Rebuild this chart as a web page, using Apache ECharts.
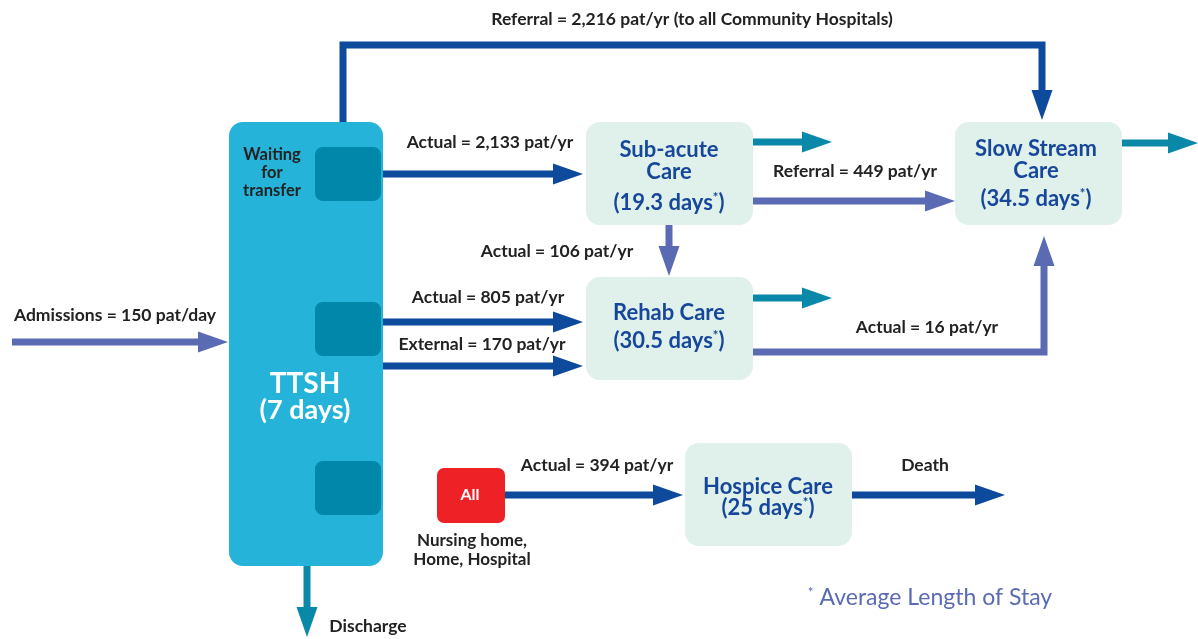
<!DOCTYPE html>
<html>
<head>
<meta charset="utf-8">
<script src="https://cdn.jsdelivr.net/npm/echarts@6/dist/echarts.min.js"></script>
<style>
html, body { margin: 0; padding: 0; background: #fff; }
#main { width: 1198px; height: 639px; }
</style>
</head>
<body>
<div id="main"></div>
<script>
// --- data ---
var hubName = 'TTSH';
var hubDays = 7;
var careNames = ['Sub-acute Care', 'Rehab Care', 'Slow Stream Care', 'Hospice Care'];
var careDays = [19.3, 30.5, 34.5, 25];
var flowNames = ['Admissions', 'Referral', 'Actual', 'Referral', 'Actual', 'Actual', 'External', 'Actual', 'Actual'];
var flowValues = [150, 2216, 2133, 449, 106, 805, 170, 16, 394];
var flowUnits = ['pat/day', 'pat/yr', 'pat/yr', 'pat/yr', 'pat/yr', 'pat/yr', 'pat/yr', 'pat/yr', 'pat/yr'];
var flowNotes = ['', ' (to all Community Hospitals)', '', '', '', '', '', '', ''];
var exitNames = ['Death', 'Discharge'];
var sourceName = 'All';
var sourceNote = ['Nursing home,', 'Home, Hospital'];
var footNote = 'Average Length of Stay';

// --- colours ---
var CYAN = '#25b3d9', DEEP = '#0087aa', MINT = '#e0f0ea', RED = '#ee2226';
var NAVY = '#0d4a9b', PURPLE = '#5a6bb4', TEAL = '#0a88a8';
var TXT = '#222', BLUE_TXT = '#16479a';
var FONT = 'Lato, "Open Sans", sans-serif';

// --- layout (pixel space of the hidden axes) ---
var boxes = [
    { r: [229, 122, 383, 566], fill: CYAN, rad: 14 },
    { r: [315, 147, 381, 201], fill: DEEP, rad: 8 },
    { r: [315, 302, 381, 356], fill: DEEP, rad: 8 },
    { r: [315, 461, 381, 515], fill: DEEP, rad: 8 },
    { r: [586, 122, 753, 225], fill: MINT, rad: 14 },
    { r: [586, 277, 753, 380], fill: MINT, rad: 14 },
    { r: [955, 122, 1122, 225], fill: MINT, rad: 14 },
    { r: [685, 443, 852, 546], fill: MINT, rad: 14 },
    { r: [437, 468, 505, 523], fill: RED, rad: 7 }
];
var careText = [
    { x: 669, ys: [150, 172, 203], split: true },
    { x: 669, ys: [313, 341], split: false },
    { x: 1036, ys: [149, 171, 199], split: true },
    { x: 768, ys: [487, 508], split: false }
];
var flowPaths = [
    [[12, 342], [228, 342]],
    [[343, 122], [343, 45], [1042, 45], [1042, 120]],
    [[383, 174], [583, 174]],
    [[753, 201], [955, 201]],
    [[669, 225], [669, 276]],
    [[383, 322], [583, 322]],
    [[383, 366], [583, 366]],
    [[753, 352], [1044, 352], [1044, 236]],
    [[505, 495], [683, 495]]
];
var flowColors = [PURPLE, NAVY, NAVY, PURPLE, PURPLE, NAVY, NAVY, PURPLE, NAVY];
var flowLabelPos = [[115, 315], [692, 19], [490, 142], [855, 171], [557, 251], [488, 297], [482, 344], [927, 327], [597, 465]];
var exitPaths = [
    [[852, 495], [1005, 495]],
    [[307, 566], [307, 637]]
];
var exitColors = [NAVY, TEAL];
var exitLabelPos = [[925, 465], [368, 626]];
var outPaths = [
    [[753, 142], [832, 142]],
    [[753, 298], [832, 298]],
    [[1122, 143], [1198, 143]]
];

function fmt(n) {
    return String(n).replace(/\B(?=(\d{3})+(?!\d))/g, ',');
}

// arrows: flows + exits + outflows
var arrows = [];
flowPaths.forEach(function (p, i) { arrows.push({ pts: p, color: flowColors[i] }); });
exitPaths.forEach(function (p, i) { arrows.push({ pts: p, color: exitColors[i] }); });
outPaths.forEach(function (p) { arrows.push({ pts: p, color: TEAL }); });

// texts
var texts = [];
function addText(t, x, y, size, color, weight, align) {
    texts.push({ t: t, x: x, y: y, size: size, color: color, weight: weight || 'bold', align: align || 'center' });
}
flowNames.forEach(function (n, i) {
    addText(n + ' = ' + fmt(flowValues[i]) + ' ' + flowUnits[i] + flowNotes[i],
        flowLabelPos[i][0], flowLabelPos[i][1], 17.5, TXT);
});
exitNames.forEach(function (n, i) {
    addText(n, exitLabelPos[i][0], exitLabelPos[i][1], 17.5, TXT);
});
careNames.forEach(function (n, i) {
    var c = careText[i], lines;
    if (c.split) {
        var k = n.lastIndexOf(' ');
        lines = [n.slice(0, k), n.slice(k + 1)];
    } else {
        lines = [n];
    }
    lines.push('(' + careDays[i] + ' days{s|*})');
    lines.forEach(function (l, j) { addText(l, c.x, c.ys[j], 22, BLUE_TXT); });
});
addText(hubName, 305, 384, 28, '#fff');
addText('(' + hubDays + ' days)', 305, 410, 27, '#fff');
['Waiting', 'for', 'transfer'].forEach(function (l, j) { addText(l, 272, 155 + j * 18, 16.5, TXT); });
addText(sourceName, 470, 495, 16, '#fff');
sourceNote.forEach(function (l, j) { addText(l, 472, 541 + j * 19, 17, TXT); });
addText('{s|*}' + ' ' + footNote, 930, 598, 23, PURPLE, 'normal');

var myChart = echarts.init(document.getElementById('main'));
var option = {
    animation: false,
    grid: { left: 0, right: 0, top: 0, bottom: 0 },
    xAxis: { type: 'value', min: 0, max: 1198, show: false },
    yAxis: { type: 'value', min: 0, max: 639, inverse: true, show: false },
    series: [
        {
            type: 'custom',
            clip: false,
            data: boxes.map(function (b, i) { return [i]; }),
            renderItem: function (params, api) {
                var b = boxes[params.dataIndex];
                var p0 = api.coord([b.r[0], b.r[1]]);
                var p1 = api.coord([b.r[2], b.r[3]]);
                return {
                    type: 'rect',
                    shape: { x: p0[0], y: p0[1], width: p1[0] - p0[0], height: p1[1] - p0[1], r: b.rad },
                    style: { fill: b.fill }
                };
            }
        },
        {
            type: 'custom',
            clip: false,
            data: arrows.map(function (a, i) { return [i]; }),
            renderItem: function (params, api) {
                var a = arrows[params.dataIndex];
                var pts = a.pts.map(function (p) { return api.coord(p); });
                var n = pts.length;
                var tip = pts[n - 1], prev = pts[n - 2];
                var dx = tip[0] - prev[0], dy = tip[1] - prev[1];
                var len = Math.sqrt(dx * dx + dy * dy);
                dx /= len; dy /= len;
                var hl = 30, hw = 10.5;
                var base = [tip[0] - dx * hl, tip[1] - dy * hl];
                var line = pts.slice(0, n - 1).concat([[tip[0] - dx * (hl - 2), tip[1] - dy * (hl - 2)]]);
                return {
                    type: 'group',
                    children: [
                        { type: 'polyline', shape: { points: line }, style: { stroke: a.color, lineWidth: 7, fill: null, lineJoin: 'miter' } },
                        { type: 'polygon', shape: { points: [tip, [base[0] - dy * hw, base[1] + dx * hw], [base[0] + dy * hw, base[1] - dx * hw]] }, style: { fill: a.color } }
                    ]
                };
            }
        },
        {
            type: 'custom',
            clip: false,
            data: texts.map(function (t, i) { return [i]; }),
            renderItem: function (params, api) {
                var t = texts[params.dataIndex];
                var p = api.coord([t.x, t.y]);
                return {
                    type: 'text',
                    x: p[0], y: p[1],
                    style: {
                        text: t.t,
                        fill: t.color,
                        fontSize: t.size,
                        fontWeight: t.weight,
                        fontFamily: FONT,
                        align: t.align,
                        verticalAlign: 'middle',
                        rich: {
                            s: { fontSize: t.size * 0.6, fontWeight: t.weight, fill: t.color, fontFamily: FONT, verticalAlign: 'top', padding: [0, 0, t.size * 0.45, 0] }
                        }
                    }
                };
            }
        }
    ]
};
myChart.setOption(option);
</script>
</body>
</html>
